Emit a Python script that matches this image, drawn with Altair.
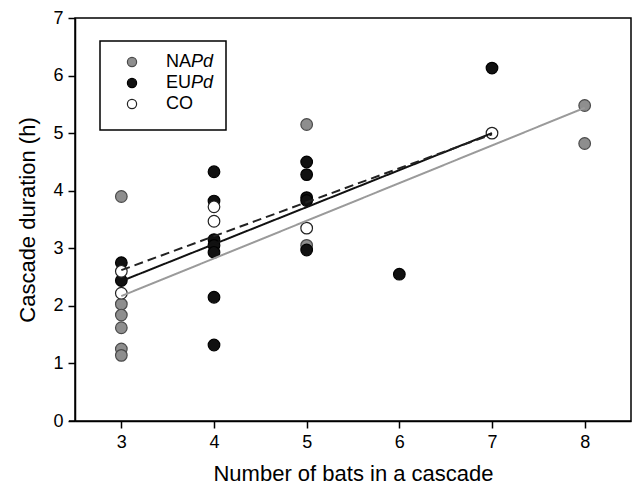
import altair as alt
import pandas as pd

# ---- data ----
napd_x = [3, 3, 3, 3, 3, 3, 5, 5, 8, 8]
napd_y = [3.90, 2.03, 1.84, 1.62, 1.25, 1.14, 5.15, 3.05, 5.48, 4.82]

eupd_x = [3, 3, 4, 4, 4, 4, 4, 4, 4, 5, 5, 5, 5, 5, 6, 7]
eupd_y = [2.75, 2.44, 4.33, 3.82, 3.15, 3.05, 2.93, 2.15, 1.32,
          4.50, 4.28, 3.88, 3.83, 2.97, 2.55, 6.13]

co_x = [3, 3, 4, 4, 5, 7]
co_y = [2.60, 2.22, 3.72, 3.47, 3.35, 5.00]

# regression line end points
line_group = ["NAPd", "NAPd", "EUPd", "EUPd", "CO", "CO"]
line_x = [3, 8, 3, 7, 3, 7]
line_y = [2.17, 5.44, 2.43, 5.00, 2.62, 4.98]

groups = ["NAPd", "EUPd", "CO"]
label_plain = ["NA", "EU", "CO"]
label_italic = ["Pd", "Pd", ""]
fills = ["#8e8e8e", "#111111", "#ffffff"]
strokes = ["#4a4a4a", "#000000", "#222222"]

pts = pd.DataFrame({
    "group": ["NAPd"] * len(napd_x) + ["EUPd"] * len(eupd_x) + ["CO"] * len(co_x),
    "x": napd_x + eupd_x + co_x,
    "y": napd_y + eupd_y + co_y,
})
pts["order"] = pts["group"].map({g: i for i, g in enumerate(groups)})
lines = pd.DataFrame({"group": line_group, "x": line_x, "y": line_y})

FONT = "Liberation Sans"

xscale = alt.Scale(domain=[2.5, 8.5], nice=False, zero=False)
yscale = alt.Scale(domain=[0, 7], nice=False)

xaxis = alt.Axis(values=[3, 4, 5, 6, 7, 8], format="d", title="Number of bats in a cascade",
                 grid=False, tickSize=7, labelPadding=5, titlePadding=12,
                 labelFontSize=18, titleFontSize=22, labelFont=FONT, titleFont=FONT,
                 titleFontWeight="normal", domainColor="black", tickColor="black",
                 labelColor="black", titleColor="black", domainWidth=1.5, tickWidth=1.5)
yaxis = alt.Axis(values=[0, 1, 2, 3, 4, 5, 6, 7], format="d", title="Cascade duration (h)",
                 grid=False, tickSize=7, labelPadding=5, titlePadding=13,
                 labelFontSize=18, titleFontSize=22, labelFont=FONT, titleFont=FONT,
                 titleFontWeight="normal", domainColor="black", tickColor="black",
                 labelColor="black", titleColor="black", domainWidth=1.5, tickWidth=1.5)

fill_scale = alt.Scale(domain=groups, range=fills)
stroke_scale = alt.Scale(domain=groups, range=strokes)

points = alt.Chart(pts).mark_point(filled=True, size=135, strokeWidth=1.2, opacity=1).encode(
    x=alt.X("x:Q", scale=xscale, axis=xaxis),
    y=alt.Y("y:Q", scale=yscale, axis=yaxis),
    fill=alt.Fill("group:N", scale=fill_scale, legend=None),
    stroke=alt.Stroke("group:N", scale=stroke_scale, legend=None),
    order=alt.Order("order:Q"),
)

line_layer = alt.Chart(lines).mark_line(strokeWidth=2).encode(
    x=alt.X("x:Q", scale=xscale),
    y=alt.Y("y:Q", scale=yscale),
    detail="group:N",
    color=alt.Color("group:N", scale=alt.Scale(domain=groups, range=["#9a9a9a", "#111111", "#222222"]), legend=None),
    strokeDash=alt.StrokeDash("group:N", scale=alt.Scale(domain=groups, range=[[1, 0], [1, 0], [9, 5]]), legend=None),
)

# small extension of the x axis line to the left of the y axis
axis_ext = alt.Chart(pd.DataFrame({"k": [0]})).mark_rule(color="black", strokeWidth=1.5).encode(
    x=alt.value(-6), x2=alt.value(0), y=alt.value(403))

# ---- manual legend (mixed italic labels) ----
legend_box = alt.Chart(pd.DataFrame({"k": [0]})).mark_rect(
    fill="white", stroke="black", strokeWidth=1.5).encode(
    x=alt.value(25), x2=alt.value(151), y=alt.value(23), y2=alt.value(112))

leg_layers = [legend_box]
row_y = [44, 65, 86]
for i, g in enumerate(groups):
    one = pd.DataFrame({"group": [g], "a": [label_plain[i]], "b": [label_italic[i]]})
    base = alt.Chart(one)
    leg_layers.append(base.mark_point(filled=True, size=85, strokeWidth=1.2, opacity=1).encode(
        x=alt.value(57), y=alt.value(row_y[i]),
        fill=alt.Fill("group:N", scale=fill_scale, legend=None),
        stroke=alt.Stroke("group:N", scale=stroke_scale, legend=None)))
    leg_layers.append(base.mark_text(align="left", baseline="middle", fontSize=18,
                                     font=FONT, color="black").encode(
        x=alt.value(91), y=alt.value(row_y[i]), text="a:N"))
    if label_italic[i]:
        leg_layers.append(base.mark_text(align="left", baseline="middle", fontSize=18,
                                         font=FONT, fontStyle="italic", color="black").encode(
            x=alt.value(116), y=alt.value(row_y[i]), text="b:N"))

chart = alt.layer(points, line_layer, axis_ext, *leg_layers).properties(
    width=556, height=403,
    padding={"left": 75, "top": 18, "right": 2, "bottom": 69},
    autosize="none",
    background="white",
).configure_view(stroke="black", strokeWidth=1.5)

chart.save("out.html", embed_options={"renderer": "svg", "actions": False})
